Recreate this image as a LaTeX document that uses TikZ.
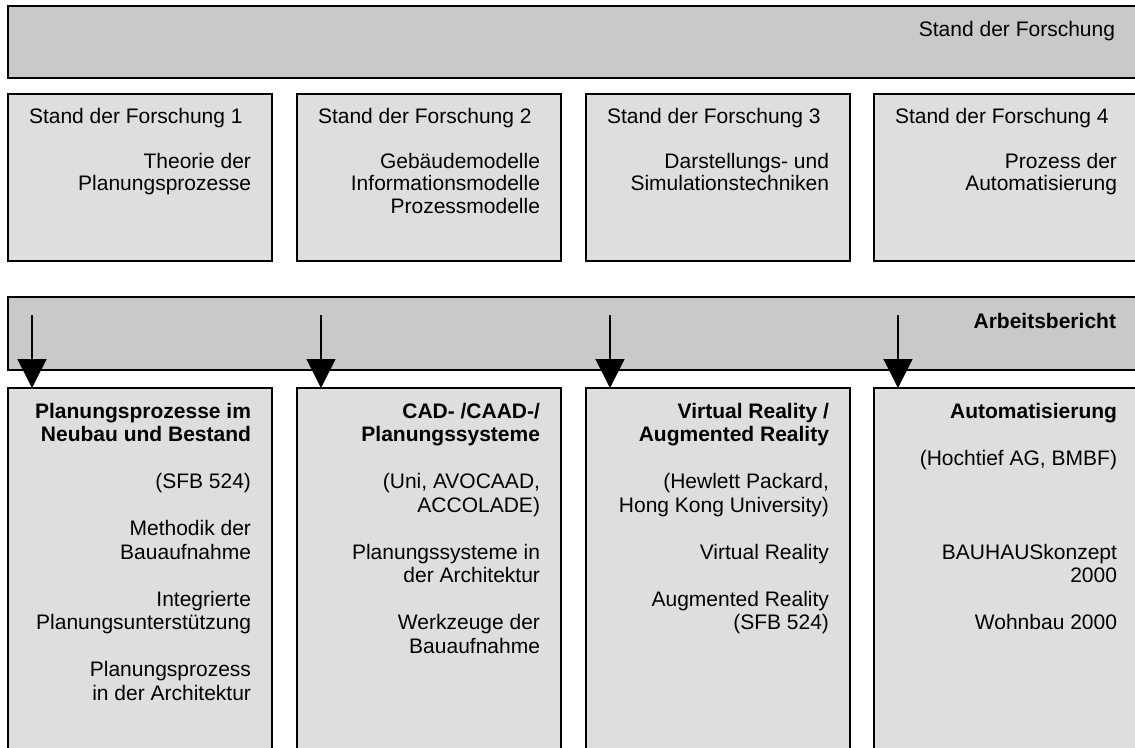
\documentclass[tikz,border=0pt]{standalone}
\usepackage{fontspec}
\setmainfont{Liberation Sans}
\usetikzlibrary{arrows.meta}
\definecolor{bargray}{RGB}{201,201,201}
\definecolor{boxgray}{RGB}{222,222,222}
\newcommand\rblock[2][23.5pt]{\vtop{\baselineskip=#1\lineskiplimit=-20pt\halign{\hfil##\cr#2\crcr}}}
\begin{document}
\begin{tikzpicture}[x=1pt,y=-1pt,
  bar/.style={draw=black,line width=1.8pt,fill=bargray,anchor=north west,inner sep=0pt,outer sep=0pt,minimum height=72pt,minimum width=1140pt},
  box/.style={draw=black,line width=1.8pt,fill=boxgray,anchor=north west,inner sep=0pt,outer sep=0pt,minimum width=264pt},
  txt/.style={inner sep=0pt,outer sep=0pt,font=\fontsize{21}{23.5}\selectfont},
  arr/.style={line width=1.5pt,-{Triangle[width=29pt,length=29pt]}}]
\useasboundingbox (0,0) rectangle (1135,747);
\clip (0,0) rectangle (1135,747);
% top bar
\node[bar] (top) at (8,6) {};
\node[txt,anchor=base east] (toplabel) at (1115,36) {Stand der Forschung};
% row 2 boxes
\foreach \i/\x in {1/8,2/297,3/586,4/874}{
  \node[box,minimum height=167pt] (f\i) at (\x,94) {};
  \node[txt,anchor=base west] (fh\i) at (\x+21,123) {Stand der Forschung \i};
}
\node[txt,anchor=base east] (fb1) at (251,168) {\rblock[22.8pt]{Theorie der\cr Planungsprozesse}};
\node[txt,anchor=base east] (fb2) at (540,168) {\rblock[22.8pt]{Gebäudemodelle\cr Informationsmodelle\cr Prozessmodelle}};
\node[txt,anchor=base east] (fb3) at (829,168) {\rblock[22.8pt]{Darstellungs- und\cr Simulationstechniken}};
\node[txt,anchor=base east] (fb4) at (1117,168) {\rblock[22.8pt]{Prozess der\cr Automatisierung}};
% Arbeitsbericht bar
\node[bar,minimum height=73pt] (ab) at (8,297) {};
\node[txt,anchor=base east,font=\fontsize{21}{23.5}\selectfont\bfseries] (ablabel) at (1116,328) {Arbeitsbericht};
% bottom boxes
\foreach \i/\x in {1/8,2/297,3/586,4/874}{
  \node[box,minimum height=380pt] (b\i) at (\x,388) {};
}
\node[txt,anchor=base east] (bt1) at (251,418) {\rblock{%
\bfseries Planungsprozesse im\cr
\bfseries Neubau und Bestand\cr
{}\cr
(SFB 524)\cr
{}\cr
Methodik der\cr
Bauaufnahme\cr
{}\cr
Integrierte\cr
Planungsunterstützung\cr
{}\cr
Planungsprozess\cr
in der Architektur}};
\node[txt,anchor=base east] (bt2) at (540,418) {\rblock{%
\bfseries CAD- /CAAD-/\cr
\bfseries Planungssysteme\cr
{}\cr
(Uni, AVOCAAD,\cr
ACCOLADE)\cr
{}\cr
Planungssysteme in\cr
der Architektur\cr
{}\cr
Werkzeuge der\cr
Bauaufnahme}};
\node[txt,anchor=base east] (bt3) at (829,418) {\rblock{%
\bfseries Virtual Reality /\cr
\bfseries Augmented Reality\cr
{}\cr
(Hewlett Packard,\cr
Hong Kong University)\cr
{}\cr
Virtual Reality\cr
{}\cr
Augmented Reality\cr
(SFB 524)}};
\node[txt,anchor=base east] (bt4) at (1117,418) {\rblock{%
\bfseries Automatisierung\cr
{}\cr
(Hochtief AG, BMBF)\cr
{}\cr
{}\cr
{}\cr
BAUHAUSkonzept\cr
2000\cr
{}\cr
Wohnbau 2000}};
% arrows
\foreach \i/\x in {1/32,2/321,3/610,4/898}{
  \coordinate (s\i) at (\x,315);
  \draw[arr] (s\i) -- (s\i |- b\i.north);
}
\end{tikzpicture}
\end{document}
